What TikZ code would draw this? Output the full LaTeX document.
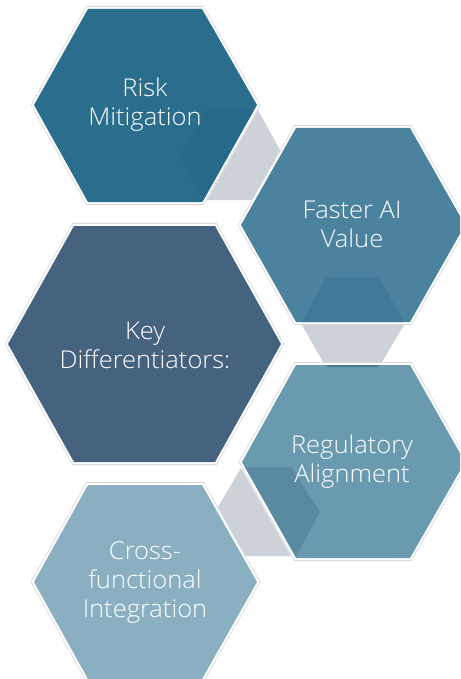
\documentclass[tikz,border=0pt]{standalone}
\usepackage{fontspec}
\setmainfont{Open Sans}[UprightFont=* Light,FakeStretch=1.04]
\definecolor{hexa}{HTML}{2A6D8C}
\definecolor{hexb}{HTML}{4B829E}
\definecolor{hexc}{HTML}{6A9AB0}
\definecolor{hexd}{HTML}{8AAFC1}
\definecolor{hexk}{HTML}{45627F}
\definecolor{ovla}{HTML}{26698A}
\definecolor{ovlb}{HTML}{417999}
\definecolor{ovlc}{HTML}{5A8AA1}
\definecolor{link}{HTML}{CDD1D8}
\definecolor{rim}{HTML}{D4D6DA}
\tikzset{
  rimline/.style={draw=rim,line width=0.6pt,fill=white,line join=miter},
  label/.style={text=white,align=center,font=\fontsize{24.5}{29}\selectfont,inner sep=0pt},
  linkshape/.style={fill=link},
}
% #1 left x, #2 inner left x, #3 inner right x, #4 right x, #5 top y, #6 mid y, #7 bottom y, #8 colour
\newcommand{\hexshape}[8]{%
  \path[rimline] (#1-3,#6) -- (#2-1.5,#5-2.5) -- (#3+1.5,#5-2.5) -- (#4+3,#6) -- (#3+1.5,#7+2.5) -- (#2-1.5,#7+2.5) -- cycle;
  \fill[#8] (#1,#6) -- (#2,#5) -- (#3,#5) -- (#4,#6) -- (#3,#7) -- (#2,#7) -- cycle;
}
\begin{document}
\begin{tikzpicture}[x=1pt,y=-1pt]
\useasboundingbox (0,0) rectangle (460,679);
\clip (0,0) rectangle (460,679);
% link shapes
\fill[linkshape] (258,110) -- (280,150) -- (252,200) -- (207,200) -- cycle;
\fill[linkshape] (302,325) -- (404,325) -- (382,362) -- (323,362) -- cycle;
\fill[linkshape] (241,468) -- (291,556) -- (245,556) -- (218,507) -- cycle;
% hexagons
\hexshape{34}{88}{202}{257}{9}{105}{202}{hexa}
\hexshape{241}{296}{410}{465}{128}{225}{322}{hexb}
\hexshape{8}{74}{215}{281}{226}{344}{462}{hexk}
\hexshape{242}{296}{410}{465}{365}{462}{558}{hexc}
\hexshape{34}{88}{202}{257}{485}{582}{679}{hexd}
% overlaps
\fill[ovla] (207,110) -- (254,110) -- (203,201) -- (180,155) -- cycle;
\fill[ovlb] (326,277) -- (379,277) -- (404,322) -- (302,322) -- cycle;
\fill[ovlb] (326,365) -- (379,365) -- (377,367) -- (328,367) -- cycle;
\fill[ovlc] (245,467) -- (291,467) -- (320,512) -- (296,556) -- cycle;
% labels
\node[label] (risk) at (145,105) {Risk\\Mitigation};
\node[label] (faster) at (352,224.5) {Faster AI\\Value};
\node[label] (key) at (145,345) {Key\\Differentiators:};
\node[label] (reg) at (352,462) {Regulatory\\Alignment};
\node[label] (cross) at (145,582.5) {Cross-\\functional\\Integration};
\end{tikzpicture}
\end{document}
